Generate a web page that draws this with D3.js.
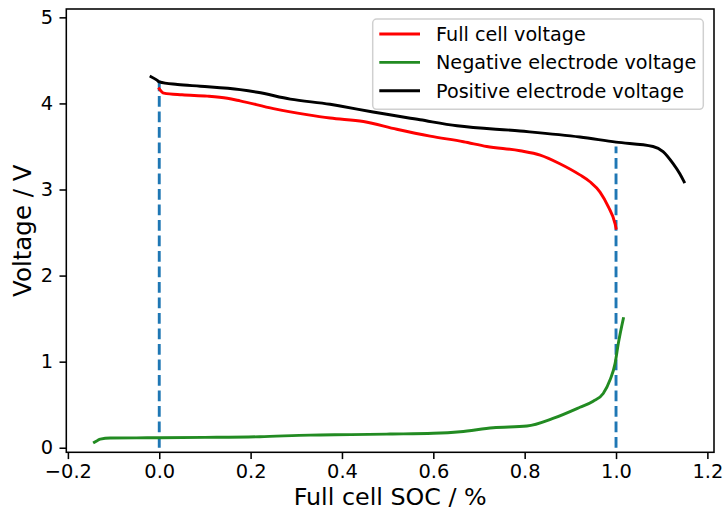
<!DOCTYPE html>
<html><head><meta charset="utf-8">
<script src="https://cdn.jsdelivr.net/npm/d3@7"></script>
<style>body{margin:0;background:#fff}svg text{font-family:"DejaVu Sans",sans-serif}</style>
</head><body><svg id="c" width="724" height="511"></svg>
<script>
// Data
const seriesNames = ["Full cell voltage","Negative electrode voltage","Positive electrode voltage"];
const seriesColors = ["#ff0000","#228b22","#000000"];
const fullX = [0.0,0.01,0.05,0.105,0.149,0.177,0.25,0.323,0.374,0.447,0.52,0.593,0.666,0.717,0.79,0.834,0.877,0.921,0.943,0.965,0.983,0.998,1.0];
const fullV = [4.17,4.12,4.10,4.085,4.06,4.03,3.94,3.87,3.83,3.79,3.70,3.62,3.555,3.50,3.45,3.40,3.30,3.17,3.09,2.97,2.80,2.60,2.55];
const negX = [-0.142,-0.135,-0.129,-0.107,-0.05,0.0,0.1,0.22,0.33,0.42,0.505,0.6,0.659,0.731,0.805,0.862,0.921,0.95,0.972,0.987,0.998,1.005,1.016];
const negV = [0.063,0.085,0.10,0.113,0.115,0.116,0.12,0.128,0.147,0.152,0.159,0.168,0.186,0.232,0.252,0.34,0.47,0.54,0.63,0.79,0.98,1.21,1.50];
const posX = [-0.018,-0.005,0.0,0.04,0.09,0.177,0.215,0.287,0.374,0.396,0.468,0.571,0.652,0.79,0.921,1.0,1.081,1.103,1.125,1.14,1.149];
const posV = [4.31,4.27,4.25,4.22,4.20,4.16,4.13,4.05,3.99,3.97,3.90,3.81,3.74,3.68,3.61,3.55,3.50,3.44,3.30,3.18,3.09];
const vlineX = [0.0, 1.0];
const vlineTop = [4.3, 3.5];
const xTicks = [-0.2,0.0,0.2,0.4,0.6,0.8,1.0,1.2];
const yTicks = [0,1,2,3,4,5];

const svg = d3.select("#c");
const L=66.3,R=714,T=9,B=452.3;
const x = d3.scaleLinear().domain([-0.2035,1.2145]).range([L,R]);
const y = d3.scaleLinear().domain([-0.053,5.097]).range([B,T]);

const line = d3.line().x(d=>x(d[0])).y(d=>y(d[1])).curve(d3.curveMonotoneX);
const lineLin = d3.line().x(d=>x(d[0])).y(d=>y(d[1]));
const zip=(a,b)=>a.map((v,i)=>[v,b[i]]);

const g = svg.append("g");
// dashed lines
vlineX.forEach((vx,i)=>{
  g.append("path").attr("d",lineLin([[vx,0],[vx,vlineTop[i]]]))
   .attr("stroke","#1f77b4").attr("stroke-width",2.9).attr("stroke-dasharray","10.8,4.7").attr("fill","none");
});
const data=[zip(fullX,fullV),zip(negX,negV),zip(posX,posV)];
data.forEach((d,i)=>{
  g.append("path").attr("d",line(d)).attr("stroke",seriesColors[i]).attr("stroke-width",2.9)
   .attr("fill","none").attr("stroke-linecap","square").attr("stroke-linejoin","round");
});

// axes
const fmt = v => (v<0?"\u2212":"")+Math.abs(v).toFixed(1);
const xa = svg.append("g").attr("transform",`translate(0,${B})`)
  .call(d3.axisBottom(x).tickValues(xTicks).tickFormat(fmt).tickSize(6.8).tickPadding(5));
const ya = svg.append("g").attr("transform",`translate(${L},0)`)
  .call(d3.axisLeft(y).tickValues(yTicks).tickFormat(d3.format("d")).tickSize(6.8).tickPadding(6.5));
[xa,ya].forEach(a=>{
  a.select(".domain").remove();
  a.selectAll("line").attr("stroke","#000").attr("stroke-width",1.55);
  a.selectAll("text").attr("font-size","19.4px").attr("fill","#000").attr("font-family","DejaVu Sans");
});
svg.append("rect").attr("x",L).attr("y",T).attr("width",R-L).attr("height",B-T)
  .attr("fill","none").attr("stroke","#000").attr("stroke-width",1.55);

svg.append("text").attr("x",(L+R)/2).attr("y",505.3).attr("text-anchor","middle")
  .attr("font-size","23.8px").text("Full cell SOC / %");
svg.append("text").attr("transform",`translate(30.5,${(T+B)/2}) rotate(-90)`).attr("text-anchor","middle")
  .attr("font-size","24.5px").text("Voltage / V");

// legend
const lg = svg.append("g");
lg.append("rect").attr("x",372.7).attr("y",19).attr("width",330.6).attr("height",90.3).attr("rx",4)
  .attr("fill","#fff").attr("fill-opacity",0.8).attr("stroke","#d0d0d0").attr("stroke-width",1.5);
seriesNames.forEach((n,i)=>{
  const yy = 34 + i*28.35;
  lg.append("line").attr("x1",379.3).attr("x2",420).attr("y1",yy).attr("y2",yy)
    .attr("stroke",seriesColors[i]).attr("stroke-width",2.9);
  lg.append("text").attr("x",436).attr("y",yy).attr("dy","0.36em").attr("font-size","19.2px").text(n);
});
</script></body></html>
